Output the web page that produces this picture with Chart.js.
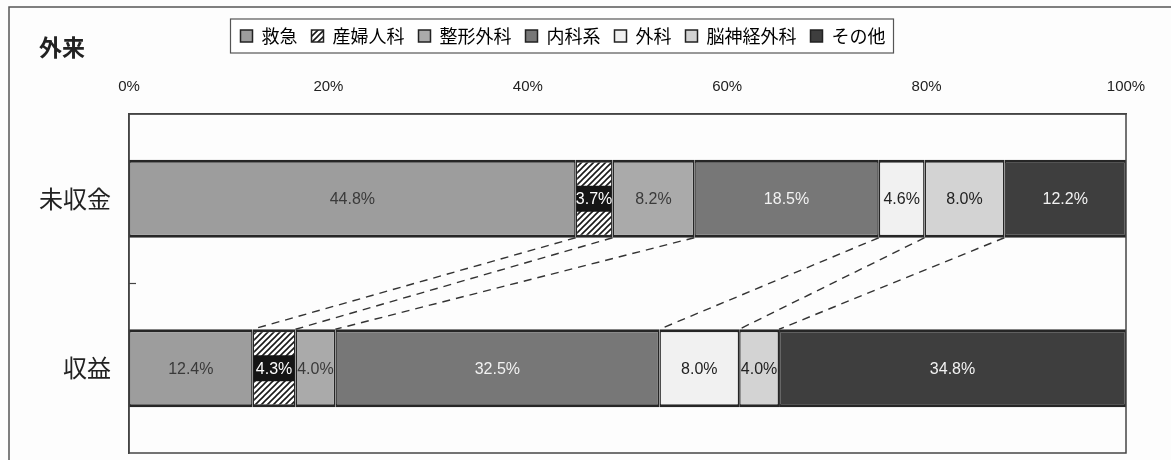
<!DOCTYPE html>
<html lang="ja">
<head>
<meta charset="utf-8">
<title>外来</title>
<script src="https://cdn.jsdelivr.net/npm/chart.js@4.4.1/dist/chart.umd.min.js"></script>
<style>
	html, body { margin: 0; padding: 0; background: #fdfdfd; }
	#wrap { width: 1171px; height: 460px; }
</style>
</head>
<body>
<div id="wrap"><canvas id="outpatientChart" width="1171" height="460"></canvas></div>
<script>
const categories = ['未収金', '収益'];
const departments = ['救急', '産婦人科', '整形外科', '内科系', '外科', '脳神経外科', 'その他'];
const unpaidShares = [44.8, 3.7, 8.2, 18.5, 4.6, 8.0, 12.2];
const revenueShares = [12.4, 4.3, 4.0, 32.5, 8.0, 4.0, 34.8];
const tickValues = [0, 20, 40, 60, 80, 100];

const fillColors = ['#9d9d9d', null, '#aaaaaa', '#777777', '#f1f1f1', '#d3d3d3', '#3e3e3e'];
const labelColors = ['#3a3a3a', '#ffffff', '#3a3a3a', '#f2f2f2', '#222222', '#222222', '#f2f2f2'];
const jpFont = '"Noto Sans CJK JP", "Noto Sans", sans-serif';
const narrowFont = '"Liberation Sans Narrow", "Liberation Sans", Arial, sans-serif';

function hatchPattern() {
	const c = document.createElement('canvas');
	c.width = 6;
	c.height = 6;
	const g = c.getContext('2d');
	g.fillStyle = '#ffffff';
	g.fillRect(0, 0, 6, 6);
	g.strokeStyle = '#1a1a1a';
	g.lineWidth = 1.6;
	g.beginPath();
	g.moveTo(-1, 7); g.lineTo(7, -1);
	g.moveTo(-4, 4); g.lineTo(4, -4);
	g.moveTo(2, 10); g.lineTo(10, 2);
	g.stroke();
	return g.createPattern(c, 'repeat');
}

const ctx = document.getElementById('outpatientChart').getContext('2d');
const hatch = hatchPattern();

// title, frame, plot border, series lines, segment labels
const decorPlugin = {
	id: 'decor',
	beforeDraw(chart) {
		const g = chart.ctx;
		g.save();
		g.strokeStyle = '#555';
		g.lineWidth = 1.5;
		g.beginPath();
		g.moveTo(9, chart.height);
		g.lineTo(9, 7);
		g.lineTo(chart.width, 7);
		g.stroke();
		g.fillStyle = '#222';
		g.font = 'bold 23px ' + jpFont;
		g.textBaseline = 'middle';
		g.fillText('外来', 39, 47);
		// legend box
		const boxes = chart.legend.legendHitBoxes;
		if (boxes && boxes.length) {
			const l = Math.min(...boxes.map(b => b.left)) - 10;
			const r = Math.max(...boxes.map(b => b.left + b.width)) + 8;
			const t = boxes[0].top - 8;
			const h = boxes[0].height + 16;
			g.fillStyle = '#ffffff';
			g.fillRect(l, t, r - l, h);
			g.strokeStyle = '#555';
			g.lineWidth = 1.2;
			g.strokeRect(l, t, r - l, h);
		}
		g.restore();
	},
	afterDatasetsDraw(chart) {
		const g = chart.ctx;
		const area = chart.chartArea;
		g.save();
		// series lines between the two bars
		g.strokeStyle = '#333';
		g.lineWidth = 1.4;
		g.setLineDash([8, 6]);
		for (let i = 0; i < departments.length - 1; i++) {
			const m = chart.getDatasetMeta(i).data;
			const a = m[0], b = m[1];
			g.beginPath();
			g.moveTo(a.x, a.y + a.height / 2);
			g.lineTo(b.x, b.y - b.height / 2);
			g.stroke();
		}
		g.setLineDash([]);
		// labels
		g.font = '16px ' + narrowFont;
		g.textAlign = 'center';
		g.textBaseline = 'middle';
		chart.data.datasets.forEach((ds, i) => {
			chart.getDatasetMeta(i).data.forEach((el, j) => {
				const cx = (el.x + el.base) / 2;
				const w = Math.abs(el.x - el.base);
				if (i === 1) {
					g.fillStyle = '#151515';
					g.fillRect(Math.min(el.x, el.base) + 1, el.y - 13, w - 2, 26);
				}
				g.fillStyle = labelColors[i];
				g.fillText(ds.data[j].toFixed(1) + '%', cx, el.y + 1);
			});
		});
		// small mark between the categories on the left axis
		const y = chart.scales.y;
		const mid = (y.getPixelForTick(0) + y.getPixelForTick(1)) / 2;
		g.strokeStyle = '#444';
		g.lineWidth = 1.2;
		g.beginPath();
		g.moveTo(area.left, mid);
		g.lineTo(area.left + 7, mid);
		g.stroke();
		// plot frame
		g.strokeStyle = '#444';
		g.lineWidth = 1.5;
		g.strokeRect(area.left, area.top, area.right - area.left, area.bottom - area.top);
		g.restore();
	}
};

const datasets = departments.map((name, i) => ({
	label: name,
	data: [unpaidShares[i], revenueShares[i]],
	backgroundColor: i === 1 ? hatch : fillColors[i],
	borderColor: '#262626',
	borderWidth: { top: 3, bottom: 3, left: 1.5, right: 1.5 },
	borderSkipped: false,
	categoryPercentage: 1,
	barPercentage: 0.46
}));

const chart = new Chart(ctx, {
	type: 'bar',
	data: { labels: categories, datasets: datasets },
	plugins: [decorPlugin],
	options: {
		indexAxis: 'y',
		responsive: false,
		animation: false,
		layout: { padding: { top: 13, right: 45, bottom: 7, left: 0 } },
		plugins: {
			tooltip: { enabled: false },
			title: { display: false },
			legend: {
				display: true,
				position: 'top',
				labels: {
					color: '#222',
					font: { family: jpFont, size: 18 },
					boxWidth: 12,
					boxHeight: 12,
					padding: 14,
					generateLabels(chart) {
						return chart.data.datasets.map((ds, i) => ({
							text: ds.label,
							fillStyle: ds.backgroundColor,
							strokeStyle: '#222',
							lineWidth: 1.5,
							datasetIndex: i
						}));
					}
				}
			}
		},
		scales: {
			x: {
				position: 'top',
				stacked: true,
				min: 0,
				max: 100,
				afterBuildTicks(scale) {
					scale.ticks = tickValues.map(v => ({ value: v }));
				},
				afterFit(scale) {
					scale.height = 59;
				},
				ticks: {
					color: '#222',
					font: { family: narrowFont, size: 15 },
					padding: 18,
					callback: v => v + '%'
				},
				grid: { display: false, drawTicks: false },
				border: { display: true, color: '#444', width: 1.5 }
			},
			y: {
				stacked: true,
				afterFit(scale) {
					scale.width = 129;
					scale.paddingTop = 0;
					scale.paddingBottom = 0;
				},
				ticks: {
					color: '#222',
					font: { family: jpFont, size: 24 },
					padding: 18
				},
				grid: { display: true, drawOnChartArea: false, offset: true, drawTicks: false },
				border: { display: true, color: '#444', width: 1.5 }
			}
		}
	}
});
</script>
</body>
</html>
